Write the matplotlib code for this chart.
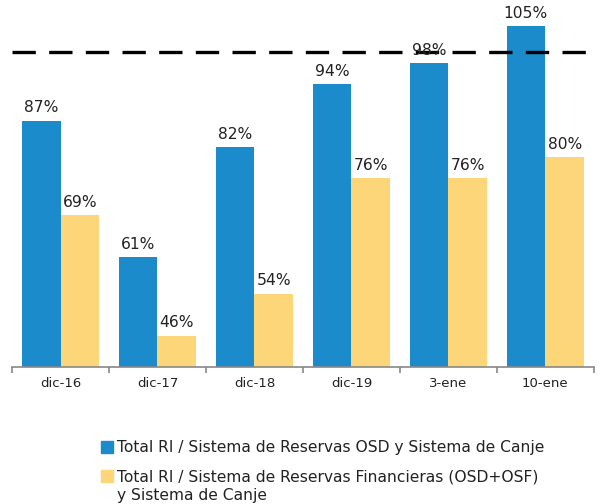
import numpy as np
import matplotlib.pyplot as plt
from matplotlib.patches import Rectangle

categories = ['dic-16', 'dic-17', 'dic-18', 'dic-19', '3-ene', '10-ene']
osd = [87, 61, 82, 94, 98, 105]
osd_osf = [69, 46, 54, 76, 76, 80]
labels = ['Total RI / Sistema de Reservas OSD y Sistema de Canje',
          'Total RI / Sistema de Reservas Financieras (OSD+OSF)\ny Sistema de Canje']
blue = '#1b8bcc'
yellow = '#fdd67a'

plt.rcParams['font.family'] = ['DejaVu Sans']

fig = plt.figure(figsize=(6.01, 5.04), dpi=100)
ax = fig.add_axes([0.02, 0.2718, 0.968, 0.7282])

x = np.arange(len(categories))
w = 0.4
b1 = ax.bar(x - w / 2, osd, w, color=blue, label=labels[0])
b2 = ax.bar(x + w / 2, osd_osf, w, color=yellow, label=labels[1])

for rects, vals in ((b1, osd), (b2, osd_osf)):
    for r, v in zip(rects, vals):
        ax.text(r.get_x() + r.get_width() / 2, v + 1.0, f'{v}%',
                ha='center', va='bottom', fontsize=11.2, color='#222222')

# linea de referencia 100%
ax.axhline(100, color='black', lw=2.4, dashes=(7, 4), xmin=0, xmax=0.99)

ax.set_ylim(40, 110)
ax.set_xlim(-0.5, len(categories) - 0.5)
ax.set_yticks([])
for s in ['top', 'right', 'left']:
    ax.spines[s].set_visible(False)
ax.spines['bottom'].set_color('#888888')
ax.spines['bottom'].set_linewidth(1.2)

ax.set_xticks(np.arange(len(categories) + 1) - 0.5)
ax.set_xticklabels([])
ax.set_xticks(x, minor=True)
ax.set_xticklabels(categories, minor=True, fontsize=9.5, color='#222222')
ax.tick_params(axis='x', which='major', length=4, color='#888888', width=1.2)
ax.tick_params(axis='x', which='minor', length=0, pad=7)

# leyenda manual (cuadro alineado con la primera linea)
W, H = fig.get_size_inches() * fig.dpi
sq = 12
for (ytop, col, lab) in [(441, blue, labels[0]), (470, yellow, labels[1])]:
    fig.patches.append(Rectangle((101 / W, 1 - (ytop + sq) / H), sq / W, sq / H,
                                 transform=fig.transFigure, color=col))
    fig.text(117 / W, 1 - (ytop - 1) / H, lab, ha='left', va='top',
             fontsize=11.2, color='#222222', linespacing=1.3)

plt.savefig('out.png', dpi=100)
